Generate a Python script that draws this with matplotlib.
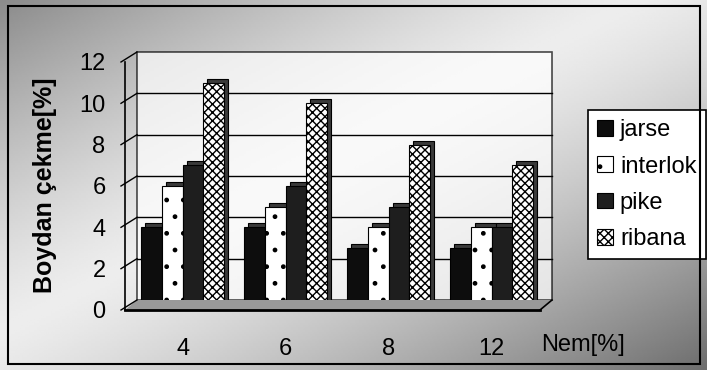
import numpy as np
import matplotlib
matplotlib.use("Agg")
import matplotlib.pyplot as plt
import matplotlib.patches as patches
import matplotlib.transforms as mtrans
from matplotlib.lines import Line2D

plt.rcParams['font.family'] = ['Liberation Sans', 'DejaVu Sans']
plt.rcParams['hatch.linewidth'] = 1.0

# data
nem = ['4', '6', '8', '12']
jarse = [4, 4, 3, 3]
interlok = [6, 5, 4, 4]
pike = [7, 6, 5, 4]
ribana = [11, 10, 8, 7]
yticks = [0, 2, 4, 6, 8, 10, 12]

series = [
    ('jarse', jarse, '#0d0d0d', None),
    ('interlok', interlok, 'white', '.'),
    ('pike', pike, '#1e1e1e', None),
    ('ribana', ribana, 'white', 'xxxx'),
]

W, H = 707, 370
fig = plt.figure(figsize=(W / 100, H / 100), dpi=100)


def fx(x):
    return x / W


def fy(y):
    return 1 - y / H


# halftone-ish background: dark corners, light diagonal band
bg = fig.add_axes([0, 0, 1, 1], zorder=-10)
gx, gy = np.meshgrid(np.linspace(0, 1, 300), np.linspace(0, 1, 160))
t = (gx + gy) / 2
shade = 0.93 - 0.5 * np.clip(np.abs(t - 0.45) / 0.55, 0, 1) ** 1.3
bg.imshow(shade, cmap='gray', vmin=0, vmax=1, aspect='auto', extent=[0, 1, 0, 1])
bg.set_xlim(0, 1)
bg.set_ylim(0, 1)
bg.axis('off')

# outer frame
fig.add_artist(patches.Rectangle((fx(8), fy(364)), fx(692), (364 - 6) / H,
                                 transform=fig.transFigure, fill=False,
                                 edgecolor='black', lw=1.5))

# front plane of the plot
left, right, top, bottom = 125, 540, 62, 310
ax = fig.add_axes([fx(left), fy(bottom), (right - left) / W, (bottom - top) / H])
xmin, xmax = -0.56, 3.47
ax.set_xlim(xmin, xmax)
ax.set_ylim(0, 12)
ax.patch.set_visible(False)
for s in ax.spines.values():
    s.set_visible(False)

dx, dy = 12, 10  # depth offset in pixels
back = ax.transData + mtrans.ScaledTranslation(dx / 100, dy / 100, fig.dpi_scale_trans)
back_ax = ax.transAxes + mtrans.ScaledTranslation(dx / 100, dy / 100, fig.dpi_scale_trans)

# back wall
ax.add_patch(patches.Rectangle((0, 0), 1, 1, transform=back_ax, facecolor='white',
                               alpha=0.7, edgecolor='black', lw=1.2, zorder=0,
                               clip_on=False))
for v in yticks[1:-1]:
    ax.plot([xmin, xmax], [v, v], color='black', lw=1.0, transform=back, zorder=1,
            clip_on=False)

# left side wall / floor edges
p0 = ax.transAxes.transform((0, 0))
p1 = ax.transAxes.transform((0, 1))
p2 = ax.transAxes.transform((1, 0))
ident = mtrans.IdentityTransform()
floor = patches.Polygon([p0, p2, (p2[0] + dx, p2[1] + dy), (p0[0] + dx, p0[1] + dy)],
                        closed=True, transform=ident, facecolor='#999999',
                        edgecolor='none', zorder=1)
fig.add_artist(floor)
fig.add_artist(Line2D([p0[0], p1[0]], [p0[1], p1[1]], color='black', lw=1.2, transform=ident))
fig.add_artist(Line2D([p0[0], p2[0]], [p0[1], p2[1]], color='black', lw=2.0, transform=ident))
fig.add_artist(Line2D([p2[0], p2[0] + dx], [p2[1], p2[1] + dy], color='black', lw=1.2, transform=ident))
for v in yticks:
    a = ax.transData.transform((xmin, v))
    fig.add_artist(Line2D([a[0] - 4, a[0] + dx], [a[1], a[1] + dy], color='black',
                          lw=1.0, transform=ident))

# bars with a dark depth copy behind
x = np.arange(len(nem))
width = 0.2
offsets = [-0.3, -0.1, 0.1, 0.3]
depth = ax.transData + mtrans.ScaledTranslation(4 / 100, 4 / 100, fig.dpi_scale_trans)
for (name, vals, fc, hatch), off in zip(series, offsets):
    ax.bar(x + off, vals, width, color='#3a3a3a', edgecolor='black', lw=0.8,
           transform=depth, zorder=2)
    ax.bar(x + off, vals, width, facecolor=fc, hatch=hatch, edgecolor='black',
           lw=0.8, zorder=3, label=name)

ax.set_xticks(x)
ax.set_xticklabels(nem, fontsize=17)
ax.set_yticks(yticks)
ax.set_yticklabels([str(v) for v in yticks], fontsize=17)
ax.tick_params(axis='x', length=0, pad=20)
ax.tick_params(axis='y', length=0, pad=14)

fig.text(fx(583), fy(345), 'Nem[%]', fontsize=17, ha='center', va='center')
fig.text(fx(45), fy(185), 'Boydan çekme[%]', fontsize=18, fontweight='bold',
         rotation=90, ha='center', va='center')

leg = ax.legend(loc='upper left', bbox_to_anchor=(fx(588), fy(110)),
                bbox_transform=fig.transFigure, fontsize=17, frameon=True,
                fancybox=False, framealpha=1, edgecolor='black',
                handlelength=0.65, handleheight=0.65, handletextpad=0.3,
                labelspacing=0.6, borderpad=0.4, borderaxespad=0)
leg.get_frame().set_linewidth(1.2)

fig.savefig('out.png', dpi=100)
